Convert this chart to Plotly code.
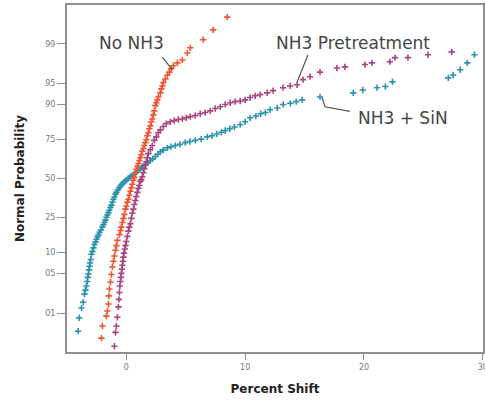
from statistics import NormalDist
import plotly.graph_objects as go

# Percent shift of each sample and its normal score (probability-plot y position)
nh3_sin_shift = [-4.06, -3.97, -3.78, -3.64, -3.53, -3.45, -3.36, -3.30, -3.25, -3.20, -3.15, -3.11,
                 -3.06, -3.00, -2.94, -2.86, -2.77, -2.69, -2.60, -2.52, -2.43, -2.35, -2.25, -2.15,
                 -2.02, -1.94, -1.85, -1.76, -1.68, -1.60, -1.51, -1.43, -1.34, -1.26, -1.18, -1.09,
                 -1.01, -0.92, -0.84, -0.72, -0.60, -0.50, -0.38, -0.25, -0.12, 0.00, 0.15, 0.34,
                 0.50, 0.66, 0.84, 1.00, 1.18, 1.30, 1.43, 1.60, 1.80, 2.02, 2.20, 2.44, 2.65, 2.86,
                 3.10, 3.45, 3.75, 4.12, 4.50, 4.96, 5.35, 5.80, 6.30, 6.81, 7.20, 7.60, 8.00, 8.32,
                 8.70, 9.10, 9.58, 10.0, 10.42, 10.9, 11.3, 11.7, 12.1, 12.7, 13.2, 13.8, 14.3, 14.8,
                 16.3, 19.1, 19.9, 21.1, 21.8, 22.4, 27.1, 27.5, 28.1, 28.7, 29.3]
nh3_sin_score = [-2.64, -2.41, -2.24, -2.14, -2.00, -1.93, -1.86, -1.78, -1.71, -1.65, -1.58, -1.52,
                 -1.46, -1.40, -1.31, -1.26, -1.20, -1.14, -1.10, -1.05, -1.01, -0.97, -0.93, -0.89,
                 -0.84, -0.80, -0.76, -0.72, -0.67, -0.63, -0.59, -0.55, -0.50, -0.46, -0.41, -0.36,
                 -0.32, -0.27, -0.24, -0.20, -0.16, -0.13, -0.10, -0.07, -0.05, -0.03, 0.00, 0.03,
                 0.05, 0.08, 0.11, 0.14, 0.17, 0.19, 0.21, 0.24, 0.27, 0.31, 0.34, 0.38, 0.42, 0.46,
                 0.49, 0.53, 0.55, 0.57, 0.59, 0.62, 0.64, 0.66, 0.68, 0.72, 0.74, 0.77, 0.80, 0.83,
                 0.86, 0.89, 0.93, 0.98, 1.05, 1.08, 1.12, 1.14, 1.19, 1.22, 1.28, 1.30, 1.33, 1.36,
                 1.41, 1.48, 1.53, 1.57, 1.59, 1.67, 1.74, 1.79, 1.88, 2.00, 2.14]

pretreat_shift = [-1.01, -0.92, -0.84, -0.76, -0.67, -0.63, -0.59, -0.55, -0.50, -0.46, -0.42, -0.38,
                  -0.34, -0.29, -0.25, -0.21, -0.13, -0.08, 0.00, 0.08, 0.17, 0.25, 0.34, 0.42, 0.50,
                  0.59, 0.67, 0.76, 0.84, 0.92, 1.01, 1.09, 1.18, 1.26, 1.34, 1.43, 1.51, 1.60, 1.68,
                  1.76, 1.85, 2.02, 2.18, 2.35, 2.52, 2.69, 2.86, 3.11, 3.36, 3.70, 4.03, 4.37, 4.71,
                  5.04, 5.38, 5.80, 6.22, 6.64, 7.06, 7.48, 7.90, 8.32, 8.74, 9.16, 9.58, 10.0, 10.42,
                  10.84, 11.26, 11.85, 12.35, 13.19, 13.78, 14.37, 14.87, 15.46, 16.30, 17.73, 18.40,
                  20.08, 20.67, 22.18, 22.61, 23.70, 25.38, 27.39]
pretreat_score = [-2.90, -2.66, -2.55, -2.40, -2.22, -2.09, -1.97, -1.86, -1.78, -1.71, -1.64, -1.57,
                  -1.50, -1.43, -1.36, -1.29, -1.22, -1.16, -1.09, -1.00, -0.91, -0.84, -0.78, -0.69,
                  -0.60, -0.53, -0.45, -0.38, -0.31, -0.24, -0.17, -0.12, -0.05, -0.02, 0.03, 0.10,
                  0.17, 0.24, 0.29, 0.36, 0.43, 0.50, 0.57, 0.66, 0.72, 0.79, 0.84, 0.90, 0.95, 0.98,
                  1.00, 1.02, 1.03, 1.05, 1.07, 1.09, 1.12, 1.14, 1.17, 1.21, 1.24, 1.28, 1.31, 1.33,
                  1.34, 1.36, 1.40, 1.43, 1.45, 1.48, 1.52, 1.57, 1.60, 1.62, 1.71, 1.76, 1.84, 1.91,
                  1.93, 1.97, 2.00, 2.02, 2.09, 2.09, 2.14, 2.19]

no_nh3_shift = [-2.10, -2.02, -1.68, -1.60, -1.51, -1.47, -1.43, -1.34, -1.26, -1.18, -1.09, -1.01,
                -0.92, -0.84, -0.76, -0.59, -0.50, -0.42, -0.34, -0.25, -0.17, -0.08, 0.00, 0.08,
                0.17, 0.25, 0.34, 0.42, 0.50, 0.59, 0.67, 0.76, 0.84, 0.92, 1.01, 1.09, 1.18, 1.26,
                1.34, 1.43, 1.51, 1.60, 1.68, 1.76, 1.85, 1.93, 2.02, 2.10, 2.18, 2.27, 2.35, 2.44,
                2.52, 2.61, 2.69, 2.86, 2.94, 3.03, 3.11, 3.28, 3.45, 3.61, 3.78, 3.95, 4.29, 4.71,
                5.13, 5.38, 6.47, 7.31, 8.49]
no_nh3_score = [-2.76, -2.55, -2.38, -2.29, -2.17, -2.03, -1.91, -1.79, -1.66, -1.53, -1.43, -1.34,
                -1.24, -1.16, -1.07, -0.97, -0.90, -0.84, -0.76, -0.69, -0.62, -0.53, -0.48, -0.41,
                -0.36, -0.29, -0.22, -0.16, -0.10, -0.03, 0.02, 0.09, 0.16, 0.21, 0.26, 0.31, 0.36,
                0.41, 0.47, 0.52, 0.57, 0.62, 0.67, 0.74, 0.79, 0.86, 0.91, 0.98, 1.03, 1.10, 1.17,
                1.26, 1.31, 1.36, 1.41, 1.48, 1.55, 1.60, 1.66, 1.72, 1.79, 1.84, 1.90, 1.95, 2.00,
                2.05, 2.17, 2.26, 2.40, 2.57, 2.79]

prob_ticks = [0.99, 0.95, 0.90, 0.75, 0.50, 0.25, 0.10, 0.05, 0.01]
prob_labels = ["99", "95", "90", "75", "50", "25", "10", "05", "01"]
shift_ticks = [0, 10, 20, 30]

TEAL = "#2c93ad"
PURPLE = "#a8457f"
RED = "#ef5530"

fig = go.Figure()
for xs, ys, col, name in [
    (nh3_sin_shift, nh3_sin_score, TEAL, "NH3 + SiN"),
    (pretreat_shift, pretreat_score, PURPLE, "NH3 Pretreatment"),
    (no_nh3_shift, no_nh3_score, RED, "No NH3"),
]:
    fig.add_trace(go.Scatter(
        x=xs, y=ys, mode="markers", name=name, showlegend=False, cliponaxis=True,
        marker=dict(symbol="cross-thin", size=4.5, color=col, line=dict(color=col, width=1.6)),
    ))

nd = NormalDist()
tick_z = [nd.inv_cdf(p) for p in prob_ticks]

axis_common = dict(
    showline=True, linecolor="#8f8f8f", linewidth=2, mirror=True,
    ticks="outside", tickcolor="#8f8f8f", tickwidth=1,
    showgrid=False, zeroline=False, automargin=False,
    tickfont=dict(family="DejaVu Sans", size=8, color="#777777"),
)
fig.update_xaxes(range=[-5, 30.02], tickvals=shift_ticks, ticklen=6, ticklabeloverflow="allow",
                 title=dict(text="<b>Percent Shift</b>", standoff=14,
                            font=dict(family="DejaVu Sans", size=12, color="#222222")),
                 **axis_common)
fig.update_yaxes(range=[-3, 3], tickvals=tick_z, ticktext=prob_labels, ticklen=8,
                 title=dict(text="<b>Normal Probability</b>", standoff=18,
                            font=dict(family="DejaVu Sans", size=12, color="#222222")),
                 **axis_common)

label_font = dict(family="DejaVu Sans", size=17, color="#454545")
fig.add_annotation(x=0.42, y=2.35, text="No NH3", showarrow=False, font=label_font)
fig.add_annotation(x=19.1, y=2.35, text="NH3 Pretreatment", showarrow=False, font=label_font)
fig.add_annotation(x=23.3, y=1.05, text="NH3 + SiN", showarrow=False, font=label_font)

leader = dict(color="#555555", width=1.2)
fig.add_shape(type="line", xref="x", yref="y", x0=3.03, y0=2.10, x1=3.87, y1=1.88, line=leader)
fig.add_shape(type="line", xref="x", yref="y", x0=15.29, y0=2.14, x1=14.37, y1=1.67, line=leader)
fig.add_shape(type="path", xref="x", yref="y", path="M 16.47,1.40 L 16.72,1.24 L 18.82,1.16", line=leader)

fig.update_layout(
    width=485, height=400,
    margin=dict(l=67, r=2, t=5, b=48),
    paper_bgcolor="white", plot_bgcolor="white",
    font=dict(family="DejaVu Sans"),
)

fig.write_html("out.html")
